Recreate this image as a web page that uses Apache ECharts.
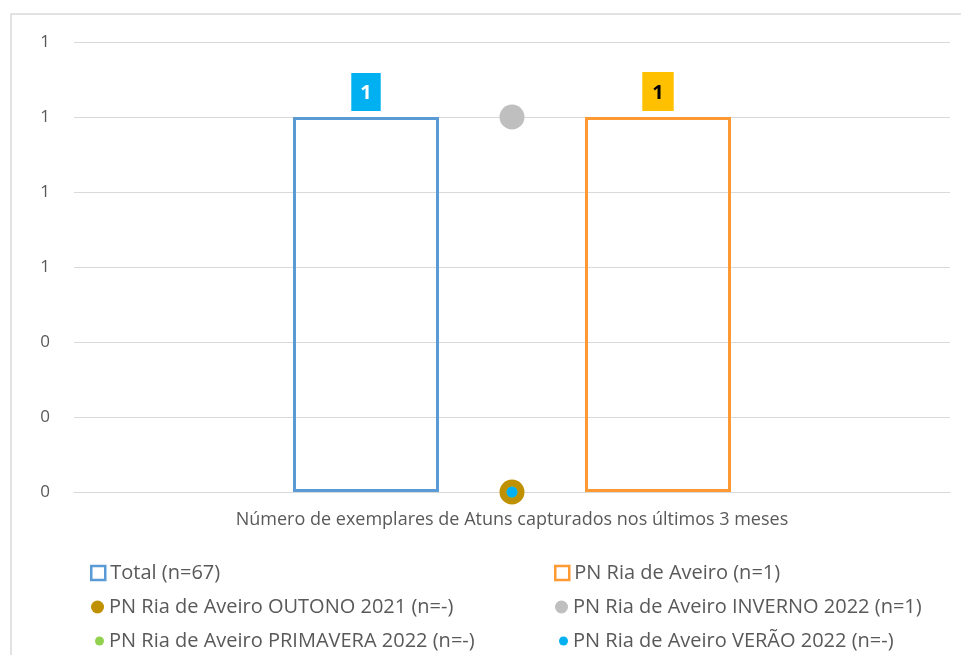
<!DOCTYPE html>
<html>
<head>
<meta charset="utf-8">
<script src="https://cdn.jsdelivr.net/npm/echarts@6/dist/echarts.min.js"></script>
<style>
  html, body { margin: 0; padding: 0; background: #fff; }
  #chart { width: 961px; height: 655px; }
</style>
</head>
<body>
<div id="chart"></div>
<script>
  // dados
  const categories = ['Número de exemplares de Atuns capturados nos últimos 3 meses']
  const yTickLabels = ['0', '0', '0', '1', '1', '1', '1']
  const totalValues = [1]
  const riaValues = [1]
  const outonoValues = [0]
  const invernoValues = [1]
  const primaveraValues = [0]
  const veraoValues = [0]

  const txt = '#595959'
  const font = 'Open Sans, Liberation Sans, sans-serif'

  let chart = echarts.init(document.getElementById('chart'))

  // legenda em duas colunas, uma entrada por componente (x = início do texto)
  const legendItems = [
    {name: 'Total (n=67)', x: 109, top: 563, icon: 'rect', size: 14, style: {color: '#fff', borderColor: '#5b9bd5', borderWidth: 2.5}},
    {name: 'PN Ria de Aveiro (n=1)', x: 573, top: 563, icon: 'rect', size: 14, style: {color: '#fff', borderColor: '#ff9933', borderWidth: 2.5}},
    {name: 'PN Ria de Aveiro OUTONO 2021 (n=-)', x: 109, top: 597, icon: 'circle', size: 13, style: {color: '#bf9000'}},
    {name: 'PN Ria de Aveiro INVERNO 2022 (n=1)', x: 573, top: 597, icon: 'circle', size: 13, style: {color: '#bfbfbf'}},
    {name: 'PN Ria de Aveiro PRIMAVERA 2022 (n=-)', x: 109, top: 631, icon: 'circle', size: 9, style: {color: '#92d050'}},
    {name: 'PN Ria de Aveiro VERÃO 2022 (n=-)', x: 573, top: 631, icon: 'circle', size: 9, style: {color: '#00b0f0'}}
  ]

  let legends = legendItems.map(el => ({
    left: el.x - 5 - el.size,
    top: el.top,
    padding: 0,
    itemWidth: el.size,
    itemHeight: el.size,
    itemGap: 0,
    selectedMode: false,
    textStyle: {color: txt, fontSize: 20, fontFamily: font},
    data: [{name: el.name, icon: el.icon, itemStyle: el.style}]
  }))

  chart.setOption({
    animation: false,
    graphic: [{
      type: 'rect',
      shape: {x: 11, y: 14, width: 1000, height: 700},
      style: {fill: 'none', stroke: '#d9d9d9', lineWidth: 1.5},
      silent: true
    }],
    grid: {left: 74, right: 11, top: 42, bottom: 163},
    legend: legends,
    xAxis: {
      type: 'category',
      data: categories,
      axisLine: {show: true, lineStyle: {color: '#d9d9d9'}},
      axisTick: {show: false},
      axisLabel: {color: txt, fontSize: 18, fontFamily: font, margin: 19}
    },
    yAxis: {
      type: 'value',
      min: 0,
      max: 1.2,
      interval: 0.2,
      axisLine: {show: false},
      axisTick: {show: false},
      splitLine: {lineStyle: {color: '#d9d9d9'}},
      axisLabel: {
        color: txt,
        fontSize: 17,
        fontFamily: font,
        margin: 24,
        formatter: (v, i) => yTickLabels[i]
      }
    },
    series: [
      {
        name: 'Total (n=67)',
        type: 'bar',
        data: totalValues,
        barWidth: 146,
        barGap: '100%',
        itemStyle: {color: 'rgba(255,255,255,0)', borderColor: '#5b9bd5', borderWidth: 3},
        label: {
          show: true, position: 'top', distance: 6,
          color: '#fff', fontSize: 20, fontWeight: 'bold', fontFamily: font,
          backgroundColor: '#00b0f0', padding: [10, 9, 8, 9]
        }
      },
      {
        name: 'PN Ria de Aveiro (n=1)',
        type: 'bar',
        data: riaValues,
        barWidth: 146,
        barGap: '100%',
        itemStyle: {color: 'rgba(255,255,255,0)', borderColor: '#ff9933', borderWidth: 3},
        label: {
          show: true, position: 'top', distance: 6,
          color: '#000', fontSize: 20, fontWeight: 'bold', fontFamily: font,
          backgroundColor: '#ffc000', padding: [11, 10, 8, 10]
        }
      },
      {
        name: 'PN Ria de Aveiro OUTONO 2021 (n=-)',
        type: 'scatter',
        data: outonoValues,
        symbolSize: 25,
        itemStyle: {color: '#bf9000', opacity: 1}
      },
      {
        name: 'PN Ria de Aveiro INVERNO 2022 (n=1)',
        type: 'scatter',
        data: invernoValues,
        symbolSize: 25,
        itemStyle: {color: '#bfbfbf', opacity: 1}
      },
      {
        name: 'PN Ria de Aveiro PRIMAVERA 2022 (n=-)',
        type: 'scatter',
        data: primaveraValues,
        symbolSize: 11,
        itemStyle: {color: '#92d050', opacity: 1}
      },
      {
        name: 'PN Ria de Aveiro VERÃO 2022 (n=-)',
        type: 'scatter',
        data: veraoValues,
        symbolSize: 11,
        itemStyle: {color: '#00b0f0', opacity: 1}
      }
    ]
  })
</script>
</body>
</html>
